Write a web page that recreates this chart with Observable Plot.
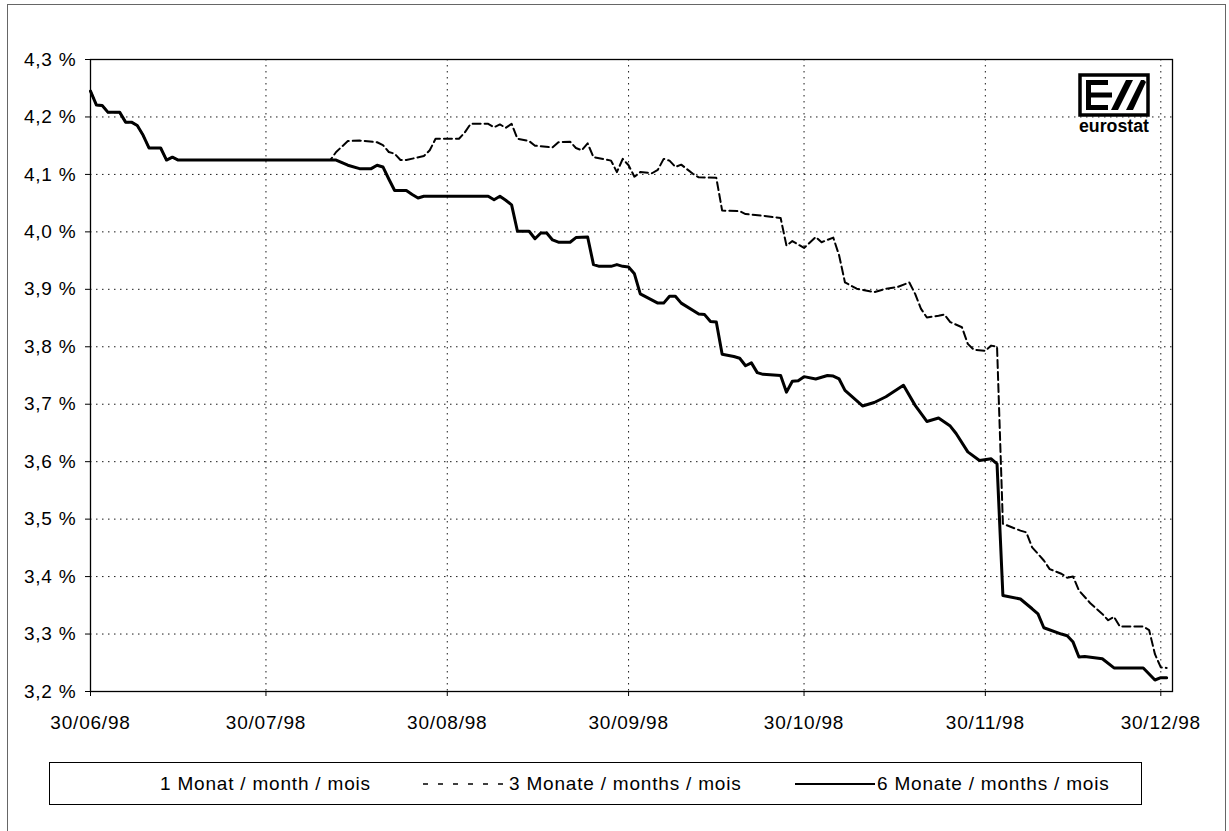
<!DOCTYPE html>
<html>
<head>
<meta charset="utf-8">
<script src="https://cdn.jsdelivr.net/npm/d3@7"></script>
<script src="https://cdn.jsdelivr.net/npm/@observablehq/plot@0.6"></script>
<style>
  html, body { margin: 0; padding: 0; background: #fff; }
  #page { position: relative; width: 1229px; height: 831px; overflow: hidden; background: #fff;
          font-family: "Liberation Sans", Arial, sans-serif; }
  #outer { position: absolute; left: 7px; top: 4px; width: 1219px; height: 900px; border: 1px solid #666; border-bottom: none; box-sizing: border-box; }
  #chart { position: absolute; left: 0; top: 0; }
  #legend { position: absolute; left: 49px; top: 762px; width: 1093px; height: 43px; border: 1px solid #000; box-sizing: border-box; }
  .lg-item { position: absolute; top: 0; height: 41px; display: flex; align-items: center; font-size: 19px; letter-spacing: 0.8px; color: #000; white-space: nowrap; }
  #logo { position: absolute; left: 1078px; top: 73px; }
</style>
</head>
<body>
<div id="page">
  <div id="outer"></div>
  <div id="chart"></div>
  <div id="legend"></div>
  <svg id="logo" width="74" height="62" viewBox="0 0 74 62">
    <rect x="2" y="2" width="68" height="40" fill="#fff" stroke="#000" stroke-width="3.5"/>
    <rect x="8" y="7" width="5" height="30" fill="#000"/>
    <rect x="8" y="7" width="22" height="5" fill="#000"/>
    <rect x="8" y="19.5" width="26" height="5" fill="#000"/>
    <rect x="8" y="32" width="22" height="5" fill="#000"/>
    <polygon points="33,37 40,37 55,7 48,7" fill="#000"/>
    <polygon points="48,37 55,37 68,9 66,7 63,7" fill="#000"/>
    <text x="1" y="59" font-family="Liberation Sans Narrow, Liberation Sans, Arial" font-weight="bold" font-size="18" textLength="70" lengthAdjust="spacingAndGlyphs">eurostat</text>
  </svg>
</div>
<script>
// ---- Data ----
const seriesNames = ["1 Monat / month / mois", "3 Monate / months / mois", "6 Monate / months / mois"];

// 6-month rate (solid)
const sixDates = ["1998-06-30","1998-07-01","1998-07-02","1998-07-03","1998-07-05","1998-07-06","1998-07-07","1998-07-08","1998-07-09","1998-07-10","1998-07-12","1998-07-13","1998-07-14","1998-07-15","1998-08-11","1998-08-13","1998-08-15","1998-08-17","1998-08-18","1998-08-19","1998-08-20","1998-08-21","1998-08-23","1998-08-24","1998-08-25","1998-08-26","1998-09-06","1998-09-07","1998-09-08","1998-09-09","1998-09-10","1998-09-11","1998-09-13","1998-09-14","1998-09-15","1998-09-16","1998-09-17","1998-09-18","1998-09-20","1998-09-21","1998-09-23","1998-09-24","1998-09-25","1998-09-27","1998-09-28","1998-09-29","1998-09-30","1998-10-01","1998-10-02","1998-10-05","1998-10-06","1998-10-07","1998-10-08","1998-10-09","1998-10-12","1998-10-13","1998-10-14","1998-10-15","1998-10-16","1998-10-18","1998-10-19","1998-10-20","1998-10-21","1998-10-22","1998-10-23","1998-10-26","1998-10-27","1998-10-28","1998-10-29","1998-10-30","1998-11-01","1998-11-03","1998-11-04","1998-11-05","1998-11-06","1998-11-09","1998-11-11","1998-11-13","1998-11-16","1998-11-18","1998-11-20","1998-11-22","1998-11-24","1998-11-25","1998-11-27","1998-11-29","1998-12-01","1998-12-02","1998-12-03","1998-12-06","1998-12-08","1998-12-09","1998-12-10","1998-12-13","1998-12-14","1998-12-15","1998-12-16","1998-12-17","1998-12-20","1998-12-22","1998-12-27","1998-12-29","1998-12-30","1998-12-31"];
const sixValues = [4.245,4.221,4.220,4.208,4.208,4.191,4.191,4.185,4.168,4.146,4.146,4.125,4.130,4.125,4.125,4.116,4.110,4.110,4.116,4.113,4.092,4.072,4.072,4.065,4.059,4.062,4.062,4.056,4.062,4.055,4.047,4.001,4.001,3.988,3.998,3.998,3.986,3.982,3.982,3.990,3.991,3.943,3.940,3.940,3.943,3.940,3.939,3.927,3.892,3.876,3.876,3.888,3.888,3.876,3.857,3.856,3.844,3.843,3.787,3.783,3.780,3.767,3.772,3.755,3.752,3.750,3.721,3.740,3.741,3.748,3.744,3.750,3.749,3.744,3.724,3.697,3.703,3.713,3.733,3.698,3.670,3.676,3.662,3.649,3.617,3.602,3.605,3.596,3.367,3.361,3.344,3.335,3.311,3.300,3.297,3.286,3.260,3.261,3.257,3.241,3.241,3.220,3.224,3.224];

// 3-month rate (dashed)
const threeDates = ["1998-06-30","1998-07-01","1998-07-02","1998-07-03","1998-07-05","1998-07-06","1998-07-07","1998-07-08","1998-07-09","1998-07-10","1998-07-12","1998-07-13","1998-07-14","1998-07-15","1998-08-10","1998-08-11","1998-08-13","1998-08-15","1998-08-18","1998-08-19","1998-08-20","1998-08-21","1998-08-22","1998-08-23","1998-08-26","1998-08-27","1998-08-28","1998-09-01","1998-09-02","1998-09-03","1998-09-06","1998-09-07","1998-09-08","1998-09-09","1998-09-10","1998-09-11","1998-09-13","1998-09-14","1998-09-17","1998-09-18","1998-09-20","1998-09-21","1998-09-22","1998-09-23","1998-09-24","1998-09-27","1998-09-28","1998-09-29","1998-09-30","1998-10-01","1998-10-02","1998-10-04","1998-10-05","1998-10-06","1998-10-07","1998-10-08","1998-10-09","1998-10-11","1998-10-12","1998-10-15","1998-10-16","1998-10-19","1998-10-20","1998-10-23","1998-10-26","1998-10-27","1998-10-28","1998-10-30","1998-11-01","1998-11-02","1998-11-04","1998-11-05","1998-11-06","1998-11-08","1998-11-11","1998-11-13","1998-11-15","1998-11-17","1998-11-18","1998-11-19","1998-11-20","1998-11-22","1998-11-23","1998-11-24","1998-11-26","1998-11-27","1998-11-28","1998-11-30","1998-12-01","1998-12-02","1998-12-03","1998-12-06","1998-12-07","1998-12-08","1998-12-10","1998-12-11","1998-12-13","1998-12-14","1998-12-15","1998-12-16","1998-12-18","1998-12-20","1998-12-21","1998-12-22","1998-12-23","1998-12-27","1998-12-28","1998-12-29","1998-12-30","1998-12-31"];
const threeValues = [4.245,4.221,4.220,4.208,4.208,4.191,4.191,4.185,4.168,4.146,4.146,4.125,4.130,4.125,4.125,4.139,4.158,4.159,4.156,4.151,4.139,4.136,4.125,4.125,4.132,4.142,4.162,4.162,4.173,4.188,4.188,4.182,4.187,4.181,4.188,4.162,4.158,4.150,4.147,4.156,4.157,4.146,4.142,4.154,4.130,4.124,4.104,4.127,4.116,4.096,4.104,4.102,4.108,4.127,4.124,4.113,4.117,4.101,4.095,4.094,4.037,4.036,4.031,4.028,4.024,3.976,3.984,3.972,3.991,3.982,3.990,3.959,3.912,3.901,3.895,3.901,3.904,3.912,3.892,3.866,3.851,3.854,3.856,3.843,3.834,3.805,3.795,3.793,3.802,3.800,3.492,3.480,3.477,3.451,3.428,3.413,3.405,3.398,3.400,3.376,3.353,3.335,3.324,3.330,3.313,3.313,3.307,3.265,3.242,3.241];

// Axis ticks and labels
const xTickDates = ["1998-06-30","1998-07-30","1998-08-30","1998-09-30","1998-10-30","1998-11-30","1998-12-30"];
const xTickLabels = ["30/06/98","30/07/98","30/08/98","30/09/98","30/10/98","30/11/98","30/12/98"];
const yTicks = [3.2,3.3,3.4,3.5,3.6,3.7,3.8,3.9,4.0,4.1,4.2,4.3];
const yTickLabels = ["3,2 %","3,3 %","3,4 %","3,5 %","3,6 %","3,7 %","3,8 %","3,9 %","4,0 %","4,1 %","4,2 %","4,3 %"];
const xDomain = ["1998-06-30","1999-01-01"];

// ---- Build tables ----
const parse = d3.utcParse("%Y-%m-%d");
const six = sixDates.map((d, i) => ({date: parse(d), value: sixValues[i]}));
const three = threeDates.map((d, i) => ({date: parse(d), value: threeValues[i]}));
const xTicks = xTickDates.map(parse);
const xLabelOf = d => xTickLabels[xTicks.findIndex(t => +t === +d)];
const yLabelOf = v => yTickLabels[yTicks.findIndex(t => Math.abs(t - v) < 1e-9)];

const grid = {stroke: "#000", strokeOpacity: 0.9, strokeWidth: 1, strokeDasharray: "1.5,4.5"};

const chart = Plot.plot({
  width: 1229,
  height: 740,
  marginLeft: 90,
  marginRight: 57,
  marginTop: 59,
  marginBottom: 49,
  style: {fontFamily: "'Liberation Sans', Arial, sans-serif", fontSize: "19px", letterSpacing: "0.8px", background: "transparent", color: "#000"},
  x: {type: "utc", domain: xDomain.map(parse)},
  y: {domain: [3.2, 4.3]},
  marks: [
    Plot.gridX(xTicks, grid),
    Plot.gridY(yTicks, grid),
    Plot.axisX(xTicks, {tickFormat: xLabelOf, tickSize: 5, tickPadding: 19, fontSize: 19, label: null}),
    Plot.axisY(yTicks, {tickFormat: yLabelOf, tickSize: 5, tickPadding: 9, fontSize: 19, label: null}),
    Plot.line(three, {x: "date", y: "value", stroke: "#000", strokeWidth: 2, strokeDasharray: "8,4"}),
    Plot.line(six, {x: "date", y: "value", stroke: "#000", strokeWidth: 3}),
    Plot.frame({stroke: "#000", strokeWidth: 1.3})
  ]
});
document.getElementById("chart").appendChild(chart);

// ---- Legend (below the plot) ----
const legend = document.getElementById("legend");
const legendItems = [
  {name: seriesNames[0], left: 110, swatch: null},
  {name: seriesNames[1], left: 373, swatch: {w: 84, dash: "5,10", sw: 1.5}},
  {name: seriesNames[2], left: 745, swatch: {w: 80, dash: null, sw: 2.2}}
];
legendItems.forEach(it => {
  const div = document.createElement("div");
  div.className = "lg-item";
  div.style.left = it.left + "px";
  if (it.swatch) {
    const ns = "http://www.w3.org/2000/svg";
    const s = document.createElementNS(ns, "svg");
    s.setAttribute("width", it.swatch.w);
    s.setAttribute("height", 10);
    s.style.marginRight = "2px";
    const l = document.createElementNS(ns, "line");
    l.setAttribute("x1", 0); l.setAttribute("x2", it.swatch.w);
    l.setAttribute("y1", 5); l.setAttribute("y2", 5);
    l.setAttribute("stroke", "#000");
    l.setAttribute("stroke-width", it.swatch.sw);
    if (it.swatch.dash) l.setAttribute("stroke-dasharray", it.swatch.dash);
    s.appendChild(l);
    div.appendChild(s);
  }
  const span = document.createElement("span");
  span.textContent = it.name;
  div.appendChild(span);
  legend.appendChild(div);
});
</script>
</body>
</html>
